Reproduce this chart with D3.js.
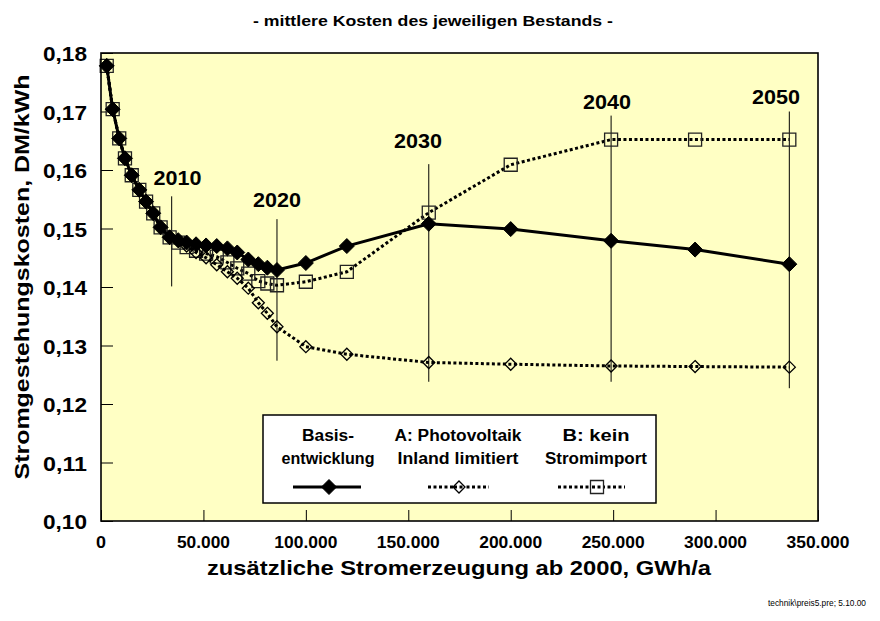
<!DOCTYPE html>
<html><head><meta charset="utf-8">
<script src="https://cdn.jsdelivr.net/npm/d3@7"></script>
<style>
body{margin:0;background:#fff;}
svg{display:block;font-family:Arial,"Liberation Sans",sans-serif;}
</style></head>
<body><svg id="c" width="880" height="621"></svg>
<script>
const xGen = [2800, 5700, 8900, 11700, 15000, 18700, 22000, 25500, 29100, 33500, 37700, 41800, 46400, 51300, 56500, 61700, 66500, 71900, 76800, 81200, 85900, 100000, 120000, 160000, 200000, 249000, 290000, 336000];
const basis = [0.1778,0.1704,0.1654,0.1620,0.1591,0.1566,0.1546,0.1526,0.1502,0.1485,0.1480,0.1476,0.1473,0.1471,0.1470,0.1466,0.1459,0.1447,0.1439,0.1433,0.1429,0.1441,0.1470,0.1508,0.1499,0.1479,0.1464,0.1439];
const scenA = [0.1778,0.1704,0.1654,0.1620,0.1591,0.1566,0.1546,0.1526,0.1502,0.1485,0.1478,0.1470,0.1459,0.1450,0.1438,0.1426,0.1415,0.1398,0.1373,0.1355,0.1332,0.1298,0.1285,0.1271,0.1268,0.1265,0.1264,0.1263];
const scenB = [0.1778,0.1704,0.1654,0.1620,0.1591,0.1566,0.1546,0.1526,0.1502,0.1485,0.1476,0.1468,0.1462,0.1457,0.1452,0.1442,0.1432,0.1423,0.1410,0.1406,0.1403,0.1409,0.1426,0.1527,0.1609,0.1652,0.1652,0.1652];

const years = ["2010","2020","2030","2040","2050"];
const yearX = [34500, 85900, 160000, 249000, 336000];
const yearTop = [0.1555, 0.1516, 0.1610, 0.1693, 0.1700];
const yearBottom = [0.1401, 0.1274, 0.1238, 0.1238, 0.1227];
const yearLabelX = [37300, 85900, 154700, 247000, 329500];
const yearLabelY = [0.1587, 0.1550, 0.1651, 0.1718, 0.1725];

const xTicks = [0, 50000, 100000, 150000, 200000, 250000, 300000, 350000];
const yTicks = [0.10, 0.11, 0.12, 0.13, 0.14, 0.15, 0.16, 0.17, 0.18];

const legendLabels = [["Basis-","entwicklung"],["A: Photovoltaik","Inland limitiert"],["B: kein","Stromimport"]];

const title = "- mittlere Kosten des jeweiligen Bestands -";
const xTitle = "zusätzliche Stromerzeugung ab 2000, GWh/a";
const yTitle = "Stromgestehungskosten, DM/kWh";
const footer = "technik\\preis5.pre; 5.10.00";

const de = d3.formatLocale({decimal: ",", thousands: ".", grouping: [3], currency: ["", " DM"]});
const fx = de.format(",.0f"), fy = de.format(".2f");

const svg = d3.select("#c");
const L = 101, R = 818, T = 53, B = 521;
const x = d3.scaleLinear().domain([0, 350000]).range([L, R]);
const y = d3.scaleLinear().domain([0.10, 0.18]).range([B, T]);

// fit a text to a measured width
function fit(sel, w) { sel.attr("textLength", w).attr("lengthAdjust", "spacingAndGlyphs"); return sel; }

svg.append("rect").attr("x", L).attr("y", T).attr("width", R - L).attr("height", B - T).attr("fill", "#ffffc4");

// ticks (inward)
const gx = svg.append("g").attr("transform", `translate(0,${B})`);
gx.call(d3.axisTop(x).tickValues(d3.range(0, 350001, 10000)).tickSize(6).tickFormat(""));
gx.call(d3.axisTop(x).tickValues(xTicks).tickSize(11).tickFormat(""));
gx.selectAll(".domain").remove();
gx.selectAll("line").attr("stroke", "#000").attr("stroke-width", 1);

const gy = svg.append("g").attr("transform", `translate(${L},0)`);
gy.call(d3.axisRight(y).tickValues(d3.range(0, 17).map(i => 0.10 + i * 0.005)).tickSize(6).tickFormat(""));
gy.call(d3.axisRight(y).tickValues(yTicks).tickSize(12).tickFormat(""));
gy.selectAll(".domain").remove();
gy.selectAll("line").attr("stroke", "#000").attr("stroke-width", 1);

// tick labels
svg.append("g").selectAll("text").data(xTicks).join("text")
  .attr("x", d => x(d)).attr("y", 548).attr("text-anchor", "middle")
  .attr("font-size", 17).attr("font-weight", "bold").text(d => fx(d))
  .attr("textLength", d => d === 0 ? 10 : (d < 100000 ? 53 : 63)).attr("lengthAdjust", "spacingAndGlyphs");
fit(svg.append("g").selectAll("text").data(yTicks).join("text")
  .attr("x", 87).attr("y", d => y(d) + 1).attr("dy", "0.35em").attr("text-anchor", "end")
  .attr("font-size", 20).attr("font-weight", "bold").text(d => fy(d)), 44);

// year lines
svg.append("g").selectAll("line").data(years).join("line")
  .attr("x1", (d, i) => x(yearX[i])).attr("x2", (d, i) => x(yearX[i]))
  .attr("y1", (d, i) => y(yearTop[i])).attr("y2", (d, i) => y(yearBottom[i]))
  .attr("stroke", "#000").attr("stroke-width", 1);
fit(svg.append("g").selectAll("text").data(years).join("text")
  .attr("x", (d, i) => x(yearLabelX[i])).attr("y", (d, i) => y(yearLabelY[i])).attr("dy", "0.36em")
  .attr("text-anchor", "middle").attr("font-size", 21).attr("font-weight", "bold").text(d => d), 48);

const pts = arr => arr.map((v, i) => [xGen[i], v]);
const line = d3.line().x(d => x(d[0])).y(d => y(d[1]));
const diamond = s => `M0,${-s}L${s},0L0,${s}L${-s},0Z`;

function drawSeries(g, data, style) {
  g.append("path").datum(data).attr("d", line).attr("fill", "none")
    .attr("stroke", "#000").attr("stroke-width", style.lw).attr("stroke-dasharray", style.dash);
  g.selectAll(".m").data(data).join("path").attr("class", "m")
    .attr("transform", d => `translate(${x(d[0])},${y(d[1])})`)
    .attr("d", style.shape).attr("fill", style.fill).attr("stroke", style.stroke).attr("stroke-width", style.mw);
}
const stB = {lw: 3, dash: "3,2.5", shape: "M-6.5,-6.5H6.5V6.5H-6.5Z", fill: "none", stroke: "#222", mw: 1.3};
const stA = {lw: 3, dash: "3,2.5", shape: diamond(6), fill: "none", stroke: "#000", mw: 1.3};
const stBasis = {lw: 3, dash: null, shape: diamond(7.5), fill: "#000", stroke: "#000", mw: 1};
drawSeries(svg.append("g"), pts(scenB), stB);
drawSeries(svg.append("g"), pts(scenA), stA);
drawSeries(svg.append("g"), pts(basis), stBasis);

// frame
svg.append("rect").attr("x", L).attr("y", T).attr("width", R - L).attr("height", B - T)
  .attr("fill", "none").attr("stroke", "#000").attr("stroke-width", 1.6);

// legend
const lg = svg.append("g");
lg.append("rect").attr("x", 263).attr("y", 415).attr("width", 393).attr("height", 88)
  .attr("fill", "#fff").attr("stroke", "#000").attr("stroke-width", 1.5);
const colX = [328, 458, 596];
const colW = [[293, 361], [428, 489], [558, 625]];
const textW = [[52, 93], [127, 121], [67, 102]];
const styles = [stBasis, stA, stB];
legendLabels.forEach((lines, i) => {
  lines.forEach((t, j) => fit(lg.append("text").attr("x", colX[i]).attr("y", 435 + j * 23.5).attr("dy", "0.36em")
    .attr("text-anchor", "middle").attr("font-size", 16).attr("font-weight", "bold").text(t), textW[i][j]));
  lg.append("line").attr("x1", colW[i][0]).attr("x2", colW[i][1]).attr("y1", 487).attr("y2", 487)
    .attr("stroke", "#000").attr("stroke-width", styles[i].lw).attr("stroke-dasharray", styles[i].dash);
  lg.append("path").attr("transform", `translate(${colX[i] + 1},487)`).attr("d", styles[i].shape)
    .attr("fill", styles[i].fill === "none" ? "#fff" : styles[i].fill)
    .attr("stroke", styles[i].stroke).attr("stroke-width", styles[i].mw);
  if (i > 0) lg.append("line").attr("x1", colX[i] - 4).attr("x2", colX[i] + 6).attr("y1", 487).attr("y2", 487)
    .attr("stroke", "#000").attr("stroke-width", 3).attr("stroke-dasharray", "3,2.5");
});

// titles
fit(svg.append("text").attr("x", 433).attr("y", 26).attr("text-anchor", "middle")
  .attr("font-size", 15).attr("font-weight", "bold").text(title), 360);
fit(svg.append("text").attr("x", 459).attr("y", 575).attr("text-anchor", "middle")
  .attr("font-size", 21).attr("font-weight", "bold").text(xTitle), 504);
fit(svg.append("text").attr("transform", "translate(29,277) rotate(-90)").attr("text-anchor", "middle")
  .attr("font-size", 21).attr("font-weight", "bold").text(yTitle), 405);
fit(svg.append("text").attr("x", 866).attr("y", 606).attr("text-anchor", "end")
  .attr("font-size", 9).text(footer), 98);
</script></body></html>
